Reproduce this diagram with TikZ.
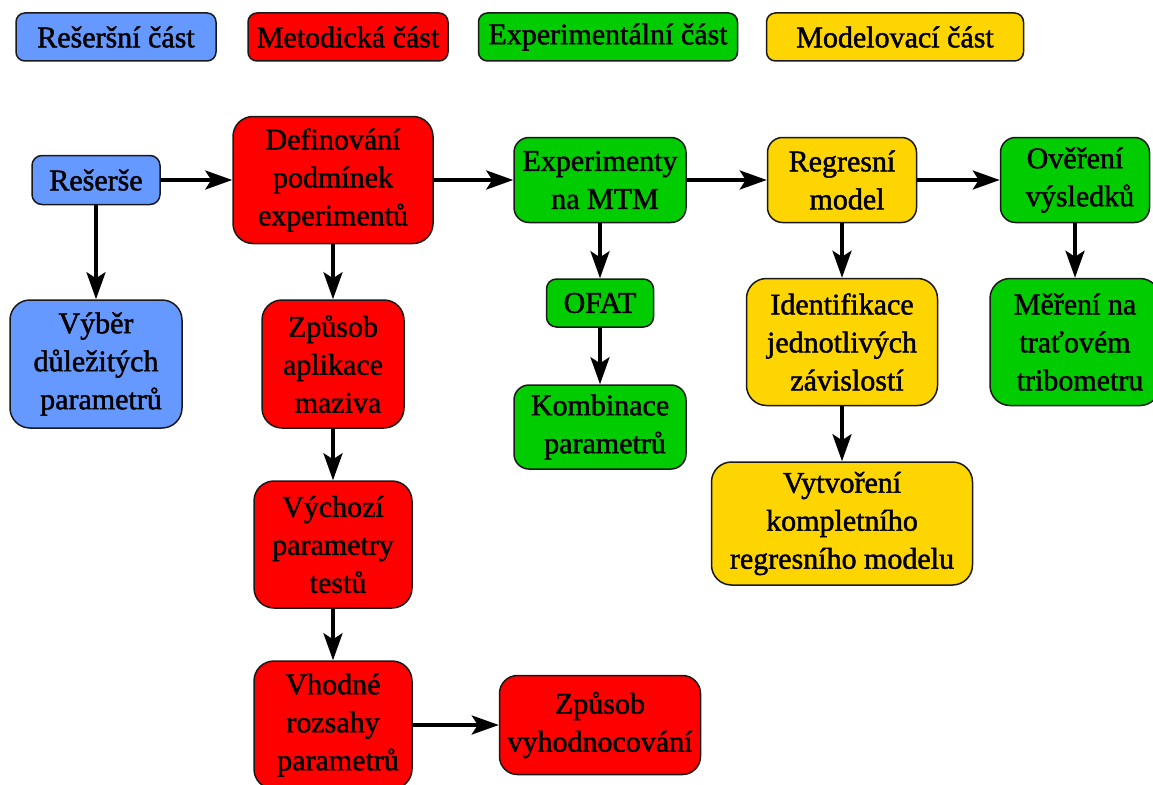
\documentclass[tikz,border=0pt]{standalone}
\usepackage{fontspec}
\setmainfont{Liberation Serif}[FakeBold=1.5]
\usetikzlibrary{arrows.meta}
\definecolor{cblue}{RGB}{102,153,255}
\definecolor{cred}{RGB}{255,0,0}
\definecolor{cgreen}{RGB}{0,204,0}
\definecolor{cyellow}{RGB}{255,213,0}
\begin{document}
\begin{tikzpicture}[x=1pt,y=-1pt,
  box/.style={draw=black!90, line width=1.5pt, align=center, inner sep=0pt,
    font=\fontsize{30}{38}\selectfont, rounded corners=#1},
  box/.default=18pt,
  arr/.style={line width=3.5pt, -{Stealth[length=27pt,width=19pt,inset=6pt]}}]
\useasboundingbox (0,0) rectangle (1153,784);
% legend
\node[box=9pt, fill=cblue, minimum width=200pt, minimum height=48pt] (l1) at (116,37) {Rešeršní část};
\node[box=9pt, fill=cred, minimum width=200pt, minimum height=48pt] (l2) at (348,37) {Metodická část};
\node[box=9pt, fill=cgreen, minimum width=259pt, minimum height=48pt] (l3) at (608,37) {Experimentální část};
\node[box=9pt, fill=cyellow, minimum width=257pt, minimum height=48pt] (l4) at (895,37) {Modelovací část};
% nodes
\node[box=10pt, fill=cblue, minimum width=128pt, minimum height=49pt] (res) at (96,180) {Rešerše};
\node[box=20pt, fill=cred, minimum width=200pt, minimum height=127pt] (def) at (333,180) {Definování\\podmínek\\experimentů};
\node[box=20pt, fill=cblue, minimum width=172pt, minimum height=128pt] (vyb) at (96,364) {Výběr\\důležitých\\\hspace*{10pt}parametrů};
\node[box=20pt, fill=cred, minimum width=142pt, minimum height=128pt] (zpa) at (333,364) {Způsob\\aplikace\\\hspace*{10pt}maziva};
\node[box=20pt, fill=cred, minimum width=158pt, minimum height=127pt] (vych) at (333,544.5) {Výchozí\\parametry\\\hspace*{10pt}testů};
\node[box=20pt, fill=cred, minimum width=158pt, minimum height=128pt] (vho) at (333,725) {Vhodné\\rozsahy\\\hspace*{10pt}parametrů};
\node[box=18pt, fill=cred, minimum width=201pt, minimum height=99pt] (zpv) at (600,725) {Způsob\\vyhodnocování};
\node[box=15pt, fill=cgreen, minimum width=172pt, minimum height=85pt] (exp) at (600,180) {Experimenty\\\hspace*{10pt}na MTM};
\node[box=10pt, fill=cgreen, minimum width=107pt, minimum height=48pt] (ofat) at (600,303) {OFAT};
\node[box=15pt, fill=cgreen, minimum width=172pt, minimum height=84pt] (kom) at (600,427) {Kombinace\\\hspace*{10pt}parametrů};
\node[box=15pt, fill=cyellow, minimum width=149pt, minimum height=85pt] (reg) at (842,180) {Regresní\\\hspace*{10pt}model};
\node[box=15pt, fill=cgreen, minimum width=149pt, minimum height=85pt] (ove) at (1075,180) {Ověření\\\hspace*{10pt}výsledků};
\node[box=20pt, fill=cyellow, minimum width=191pt, minimum height=127pt] (ide) at (842,342) {Identifikace\\jednotlivých\\\hspace*{10pt}závislostí};
\node[box=20pt, fill=cgreen, minimum width=170pt, minimum height=127pt] (mer) at (1075,342) {Měření na\\traťovém\\\hspace*{10pt}tribometru};
\node[box=20pt, fill=cyellow, minimum width=261pt, minimum height=123pt] (vyt) at (842,523.5) {Vytvoření\\kompletního\\regresního modelu};
% connectors
\draw[arr] (res) -- (def);
\draw[arr] (def) -- (exp);
\draw[arr] (exp) -- (reg);
\draw[arr] (reg) -- (ove);
\draw[arr] (res) -- (vyb);
\draw[arr] (def) -- (zpa);
\draw[arr] (zpa) -- (vych);
\draw[arr] (vych) -- (vho);
\draw[arr] (vho) -- (zpv);
\draw[arr] (exp) -- (ofat);
\draw[arr] (ofat) -- (kom);
\draw[arr] (reg) -- (ide);
\draw[arr] (ide) -- (vyt);
\draw[arr] (ove) -- (mer);
\end{tikzpicture}
\end{document}
